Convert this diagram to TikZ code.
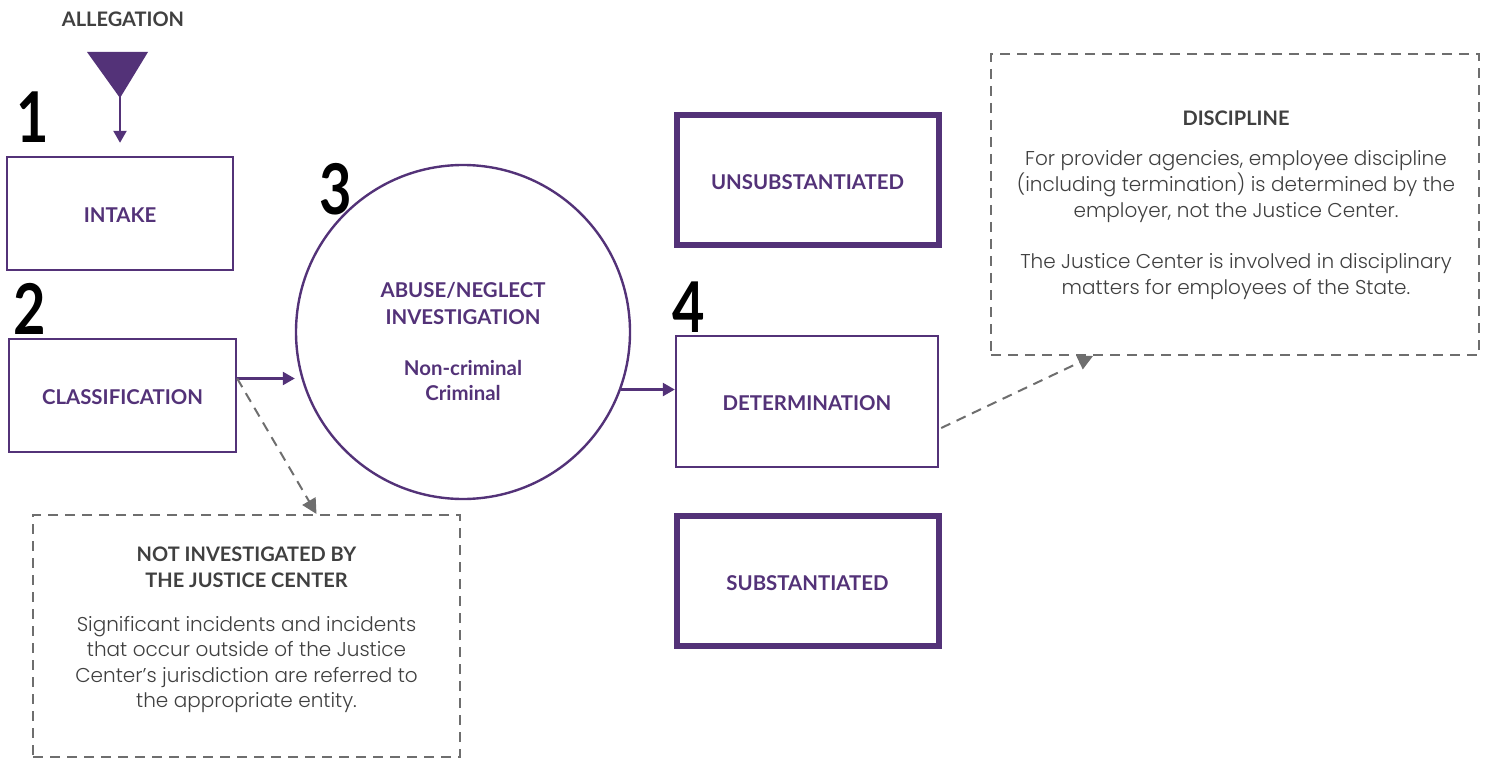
\documentclass[tikz,border=0pt]{standalone}
\usepackage{fontspec}
\usetikzlibrary{arrows.meta,calc}
\newfontfamily\labfont{Lato}
\newfontfamily\numfont{Lato}[FakeStretch=0.8]
\newfontfamily\bodyfont{Poppins}[UprightFont=* Light]
\definecolor{jpurple}{HTML}{533278}
\definecolor{jgray}{HTML}{404040}
\definecolor{dgray}{HTML}{6E6E6E}
\tikzset{
  thinbox/.style={draw=jpurple, line width=1.2pt, fill=white, text=jpurple, font=\labfont\bfseries\fontsize{10.2}{12}\selectfont, align=center, inner sep=0pt, text height=9pt, text depth=0pt},
  thickbox/.style={thinbox, line width=3pt},
  notebox/.style={draw=dgray, line width=1pt, dash pattern=on 5pt off 3.5pt, inner sep=0pt},
  numlabel/.style={font=\numfont\bfseries\fontsize{35}{35}\selectfont, text=black, inner sep=0pt},
  ptitle/.style={font=\labfont\bfseries\fontsize{10}{12.8}\selectfont, text=jgray, align=center, inner sep=0pt},
  pbody/.style={font=\bodyfont\fontsize{10}{12.8}\selectfont, text=jgray, align=center, inner sep=0pt},
  parrow/.style={draw=jpurple, line width=1.2pt, -{Triangle[length=6pt,width=6.5pt]}},
  darrow/.style={draw=dgray, line width=1pt, dash pattern=on 5pt off 3.5pt, -{Triangle[length=7.5pt,width=7.5pt]}}
}
\begin{document}
\begin{tikzpicture}[x=0.5pt,y=-0.5pt]
\useasboundingbox (0,0) rectangle (1487,759);
% allegation
\node[ptitle] (alleg) at (123,19) {ALLEGATION};
\fill[jpurple] (87,52) -- (148,52) -- (120,98) -- cycle;
\coordinate (apex) at (120,97);
% boxes
\node[thinbox, minimum width=113pt, minimum height=56.5pt] (intake) at (120,213.5) {INTAKE};
\node[thinbox, minimum width=113.5pt, minimum height=56.5pt] (cls) at (122.5,395.5) {CLASSIFICATION};
\node[draw=jpurple, line width=1.2pt, circle, minimum size=167pt, inner sep=0pt] (circ) at (463,332) {};
\node[font=\labfont\bfseries\fontsize{10.2}{13.5}\selectfont, text=jpurple, align=center] (circt1) at (463,303.5) {ABUSE/NEGLECT\\INVESTIGATION};
\node[font=\labfont\bfseries\fontsize{10.2}{12.5}\selectfont, text=jpurple, align=center] (circt2) at (463,380.5) {Non-criminal\\Criminal};
\node[thinbox, minimum width=131pt, minimum height=65.5pt] (det) at (807,401.5) {DETERMINATION};
\node[thickbox, minimum width=131pt, minimum height=65pt] (unsub) at (807.5,180.5) {UNSUBSTANTIATED};
\node[thickbox, minimum width=131pt, minimum height=65pt] (sub) at (807.5,581) {SUBSTANTIATED};
% numbers
\node[numlabel] (n1) at (33,117) {1};
\node[numlabel] (n2) at (30,309) {2};
\node[numlabel] (n3) at (336,189) {3};
\node[numlabel] (n4) at (689,307) {4};
% note boxes
\node[notebox, minimum width=213.5pt, minimum height=121pt] (notbox) at (246.5,636) {};
\node[ptitle] (nottitle) at (246.5,567.5) {NOT INVESTIGATED BY\\THE JUSTICE CENTER};
\node[pbody] (notbody) at (246.5,664.5) {Significant incidents and incidents\\that occur outside of the Justice\\Center’s jurisdiction are referred to\\the appropriate entity.};
\node[notebox, minimum width=244pt, minimum height=150.5pt] (disc) at (1235,204.5) {};
\node[ptitle] (disctitle) at (1236,118) {DISCIPLINE};
\node[pbody] (discbody1) at (1236,186.5) {For provider agencies, employee discipline\\(including termination) is determined by the\\employer, not the Justice Center.};
\node[pbody] (discbody2) at (1236,276.5) {The Justice Center is involved in disciplinary\\matters for employees of the State.};
% connectors
\draw[parrow] (apex) -- ($(intake.north)+(0,-13)$);
\coordinate (clsout) at ($(cls.east)+(0,-17)$);
\draw[parrow] (clsout) -- (clsout -| circ.west);
\draw[darrow] (clsout) -- ($(notbox.north)+(70,0)$);
\draw[parrow] (circ.-20.7) -- (circ.-20.7 -| det.west);
\draw[darrow] ($(det.east)+(2,26.5)$) -- ($(disc.south)+(-142,0)$);
\end{tikzpicture}
\end{document}
